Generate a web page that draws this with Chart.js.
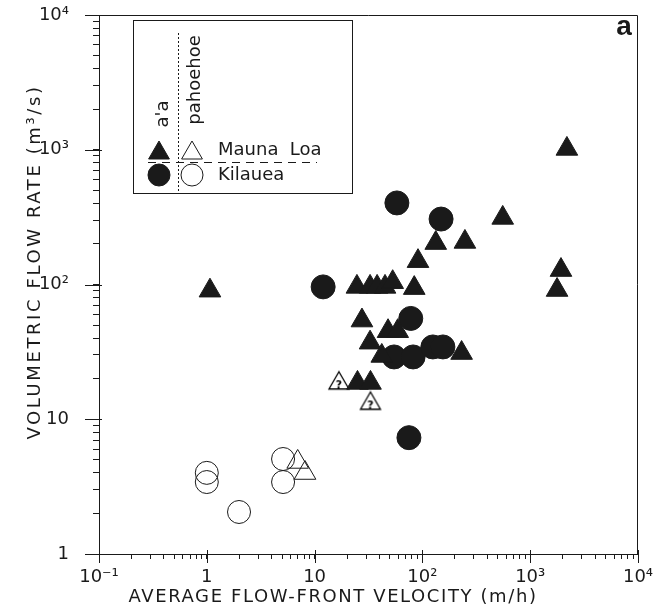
<!DOCTYPE html>
<html>
<head>
<meta charset="utf-8">
<script src="https://cdn.jsdelivr.net/npm/chart.js@4/dist/chart.umd.min.js"></script>
<style>
  body { margin: 0; background: #fff; }
  canvas { display: block; }
</style>
</head>
<body>
<canvas id="myChart" width="654" height="610"></canvas>
<script>
// Mauna Loa, a'a flows (filled triangles): velocity m/h, flow rate m3/s
const mlAaVel  = [1.07, 24.7, 32.7, 38, 45, 53, 84, 91, 27.5, 48, 59, 32.7, 42, 231, 25, 33, 2190, 133, 248, 556, 1930, 1775];
const mlAaRate = [90, 96, 96, 96, 96, 104, 94, 149, 54, 45, 45, 37, 29.5, 31, 18.6, 18.6, 1014, 203, 207, 312, 128, 91];

// Mauna Loa, pahoehoe (open triangles)
const mlPaVel  = [6.97, 8.15];
const mlPaRate = [4.82, 3.99];

// Mauna Loa, pahoehoe, uncertain (triangles with "?")
const mlQVel  = [16.8, 33];
const mlQRate = [18.5, 13.1];

// Kilauea, a'a (filled circles)
const kiAaVel  = [12, 58, 149, 78, 54.6, 82, 125, 155, 75];
const kiAaRate = [96, 403, 306, 56, 29, 29, 34.4, 34.4, 7.3];

// Kilauea, pahoehoe (open circles)
const kiPaVel  = [1.0, 1.0, 1.99, 5.1, 5.1];
const kiPaRate = [4.0, 3.42, 2.05, 5.07, 3.42];

// axis decades and their labels
const xDecades = [0.1, 1, 10, 100, 1000, 10000];
const xLabels  = ['10⁻¹', '1', '10', '10²', '10³', '10⁴'];
const yDecades = [1, 10, 100, 1000, 10000];
const yLabels  = ['1', '10', '10²', '10³', '10⁴'];

const ink = '#1a1a1a';
const font = 'DejaVu Sans';

function pts(xs, ys) {
  return xs.map((v, i) => ({x: v, y: ys[i]}));
}

// every 1..9 step of each decade, decades flagged as major
function logTicks(decades) {
  let t = [];
  for (let i = 0; i < decades.length - 1; i++) {
    for (let k = 1; k < 10; k++) t.push({value: decades[i] * k, major: k == 1});
  }
  t.push({value: decades[decades.length - 1], major: true});
  return t;
}

function labelFor(decades, labels, value) {
  for (let i = 0; i < decades.length; i++) {
    if (Math.abs(Math.log10(value) - Math.log10(decades[i])) < 1e-6) return labels[i];
  }
  return '';
}

// triangle with a question mark, for the uncertain points
function qMark() {
  const c = document.createElement('canvas');
  c.width = 26; c.height = 26;
  const g = c.getContext('2d');
  const r = 11.5, cx = 13, cy = 13;
  g.beginPath();
  g.moveTo(cx, cy - r);
  g.lineTo(cx + r * Math.sin(2 * Math.PI / 3), cy + r / 2);
  g.lineTo(cx - r * Math.sin(2 * Math.PI / 3), cy + r / 2);
  g.closePath();
  g.fillStyle = '#fff';
  g.fill();
  g.strokeStyle = '#000';
  g.lineWidth = 1.3;
  g.stroke();
  g.fillStyle = '#000';
  g.font = 'bold 11px "DejaVu Sans"';
  g.textAlign = 'center';
  g.textBaseline = 'middle';
  g.fillText('?', cx, cy + 2);
  return c;
}

// frame, major ticks, legend box, axis titles
const extras = {
  id: 'extras',
  afterDraw(chart) {
    const ctx = chart.ctx;
    const a = chart.chartArea;
    const xs = chart.scales.x, ys = chart.scales.y;
    ctx.save();
    ctx.strokeStyle = ink;
    ctx.fillStyle = ink;
    ctx.lineWidth = 1;

    ctx.beginPath();
    ctx.moveTo(a.left, a.top + 0.5);
    ctx.lineTo(a.right - 0.5, a.top + 0.5);
    ctx.lineTo(a.right - 0.5, a.bottom);
    ctx.stroke();

    ctx.beginPath();
    xDecades.forEach(d => {
      const px = Math.round(xs.getPixelForValue(d)) + 0.5;
      ctx.moveTo(px, a.bottom - 4);
      ctx.lineTo(px, a.bottom + 9);
    });
    yDecades.forEach(d => {
      const py = Math.round(ys.getPixelForValue(d)) + 0.5;
      ctx.moveTo(a.left - 14, py);
      ctx.lineTo(a.left + 3, py);
    });
    ctx.stroke();

    // legend
    const L = a.left, T = a.top;
    ctx.strokeRect(L + 34.5, T + 5.5, 219, 173);
    ctx.setLineDash([2, 2]);
    ctx.beginPath();
    ctx.moveTo(L + 79.5, T + 18);
    ctx.lineTo(L + 79.5, T + 176);
    ctx.stroke();
    ctx.setLineDash([8, 6]);
    ctx.beginPath();
    ctx.moveTo(L + 49, T + 147.5);
    ctx.lineTo(L + 218, T + 147.5);
    ctx.stroke();
    ctx.setLineDash([]);

    const tri = (cx, cy, r, filled) => {
      const s = r * Math.sin(2 * Math.PI / 3);
      ctx.beginPath();
      ctx.moveTo(cx, cy - r);
      ctx.lineTo(cx + s, cy + r / 2);
      ctx.lineTo(cx - s, cy + r / 2);
      ctx.closePath();
      if (filled) ctx.fill();
      ctx.stroke();
    };
    const dot = (cx, cy, r, filled) => {
      ctx.beginPath();
      ctx.arc(cx, cy, r, 0, 2 * Math.PI);
      if (filled) ctx.fill();
      ctx.stroke();
    };
    tri(L + 60, T + 138, 12, true);
    tri(L + 93, T + 138, 12, false);
    dot(L + 60, T + 160, 11, true);
    dot(L + 93, T + 160, 11, false);

    ctx.font = '18px "' + font + '"';
    ctx.textAlign = 'left';
    ctx.textBaseline = 'middle';
    ctx.fillText('Mauna  Loa', L + 119, T + 135);
    ctx.fillText('Kilauea', L + 119, T + 160);

    ctx.save();
    ctx.textAlign = 'center';
    ctx.translate(L + 64, T + 99);
    ctx.rotate(-Math.PI / 2);
    ctx.fillText("a'a", 0, 0);
    ctx.restore();
    ctx.save();
    ctx.textAlign = 'center';
    ctx.translate(L + 96, T + 65);
    ctx.rotate(-Math.PI / 2);
    ctx.fillText('pahoehoe', 0, 0);
    ctx.restore();

    // panel letter
    ctx.font = 'bold 28px "Liberation Sans"';
    ctx.textAlign = 'center';
    ctx.fillText('a', a.right - 14, a.top + 12);

    // axis titles
    ctx.font = '18px "' + font + '"';
    ctx.letterSpacing = '1.6px';
    ctx.fillText('AVERAGE FLOW-FRONT VELOCITY (m/h)', 333, 597);
    ctx.save();
    ctx.letterSpacing = '2.6px';
    ctx.translate(35, 262);
    ctx.rotate(-Math.PI / 2);
    ctx.fillText('VOLUMETRIC FLOW RATE (m³/s)', 0, 0);
    ctx.restore();

    ctx.restore();
  }
};

const base = {borderColor: ink, borderWidth: 1, showLine: false};

var ctx = document.getElementById('myChart').getContext('2d');
var chart = new Chart(ctx, {
  type: 'scatter',
  data: {
    datasets: [{
      ...base,
      label: "Mauna Loa a'a",
      data: pts(mlAaVel, mlAaRate),
      pointStyle: 'triangle',
      pointRadius: 12.5,
      backgroundColor: ink,
    }, {
      ...base,
      label: 'Mauna Loa pahoehoe',
      data: pts(mlPaVel, mlPaRate),
      pointStyle: 'triangle',
      pointRadius: 12.5,
      backgroundColor: 'rgba(0,0,0,0)',
    }, {
      ...base,
      label: 'Mauna Loa pahoehoe (?)',
      data: pts(mlQVel, mlQRate),
      pointStyle: qMark(),
      pointRadius: 12,
      backgroundColor: '#fff',
    }, {
      ...base,
      label: "Kilauea a'a",
      data: pts(kiAaVel, kiAaRate),
      pointStyle: 'circle',
      pointRadius: 12,
      backgroundColor: ink,
    }, {
      ...base,
      label: 'Kilauea pahoehoe',
      data: pts(kiPaVel, kiPaRate),
      pointStyle: 'circle',
      pointRadius: 11.5,
      backgroundColor: 'rgba(0,0,0,0)',
    }]
  },
  options: {
    responsive: false,
    animation: false,
    events: [],
    layout: {padding: {top: 15, right: 16, left: 0, bottom: 0}},
    plugins: {legend: {display: false}, tooltip: {enabled: false}},
    scales: {
      x: {
        type: 'logarithmic',
        min: 0.1,
        max: 10000,
        afterBuildTicks: s => { s.ticks = logTicks(xDecades); },
        afterFit: s => { s.height = 56; s.paddingLeft = 0; s.paddingRight = 0; },
        grid: {drawOnChartArea: false, tickLength: 5, tickColor: ink, color: ink},
        border: {color: ink, width: 1},
        ticks: {
          autoSkip: false,
          maxRotation: 0,
          padding: 8,
          color: ink,
          font: {family: font, size: 18},
          callback: v => labelFor(xDecades, xLabels, v)
        }
      },
      y: {
        type: 'logarithmic',
        min: 1,
        max: 10000,
        afterBuildTicks: s => { s.ticks = logTicks(yDecades); },
        afterFit: s => { s.width = 99; s.paddingTop = 0; s.paddingBottom = 0; },
        grid: {drawOnChartArea: false, tickLength: 6, tickColor: ink, color: ink},
        border: {color: ink, width: 1},
        ticks: {
          autoSkip: false,
          padding: 24,
          color: ink,
          font: {family: font, size: 18},
          callback: v => labelFor(yDecades, yLabels, v)
        }
      }
    }
  },
  plugins: [extras]
});
</script>
</body>
</html>
